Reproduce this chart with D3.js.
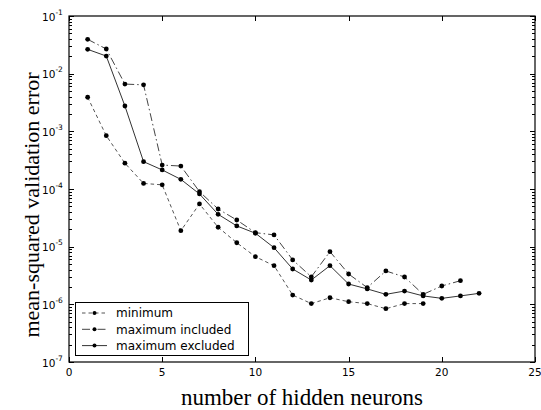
<!DOCTYPE html>
<html><head><meta charset="utf-8">
<script src="https://cdn.jsdelivr.net/npm/d3@7/dist/d3.min.js"></script>
<style>body{margin:0;background:#fff}svg{display:block}</style>
</head><body>
<svg id="c" width="541" height="410"></svg>
<script>
const xTicks = [0, 5, 10, 15, 20, 25];
const yDecades = [-7, -6, -5, -4, -3, -2, -1];
const seriesNames = ["minimum", "maximum included", "maximum excluded"];
const minimumX = [1,2,3,4,5,6,7,8,9,10,11,12,13,14,15,16,17,18,19];
const minimum = [0.0039, 8.4e-4, 2.8e-4, 1.25e-4, 1.18e-4, 1.89e-5, 5.5e-5, 2.17e-5, 1.17e-5, 6.7e-6, 4.68e-6, 1.45e-6, 1.03e-6, 1.3e-6, 1.11e-6, 1.03e-6, 8.4e-7, 1.03e-6, 1.03e-6];
const maxIncludedX = [1,2,3,4,5,6,7,8,9,10,11,12,13,14,15,16,17,18,19,20,21];
const maxIncluded = [0.0394, 0.0268, 0.0066, 0.0064, 2.6e-4, 2.5e-4, 9.0e-5, 4.5e-5, 2.9e-5, 1.75e-5, 1.6e-5, 5.9e-6, 3.0e-6, 8.2e-6, 3.36e-6, 1.95e-6, 3.79e-6, 2.98e-6, 1.49e-6, 2.08e-6, 2.57e-6];
const maxExcludedX = [1,2,3,4,5,6,7,8,9,10,11,12,13,14,15,16,17,18,19,20,21,22];
const maxExcluded = [0.0264, 0.0202, 0.00275, 2.98e-4, 2.14e-4, 1.47e-4, 8.2e-5, 3.64e-5, 2.29e-5, 1.71e-5, 9.6e-6, 4.1e-6, 2.64e-6, 4.68e-6, 2.25e-6, 1.85e-6, 1.49e-6, 1.70e-6, 1.40e-6, 1.27e-6, 1.40e-6, 1.55e-6];

const L = 69, R = 535, T = 16, B = 362;
const svg = d3.select("#c");
const x = d3.scaleLinear().domain([0, 25]).range([L, R]);
const y = d3.scaleLog().domain([1e-7, 1e-1]).range([B, T]);
const sans = "DejaVu Sans, Verdana, sans-serif";
const serif = "Liberation Serif, Times New Roman, serif";

const styles = [
  {dash: "3.5,3", color: "#555"},
  {dash: "8,3,1.5,3", color: "#444"},
  {dash: null, color: "#333"}
];
const series = [
  {name: seriesNames[0], xs: minimumX, ys: minimum, st: styles[0]},
  {name: seriesNames[1], xs: maxIncludedX, ys: maxIncluded, st: styles[1]},
  {name: seriesNames[2], xs: maxExcludedX, ys: maxExcluded, st: styles[2]}
];

svg.append("rect").attr("x", L).attr("y", T).attr("width", R - L).attr("height", B - T)
  .attr("fill", "none").attr("stroke", "#000").attr("stroke-width", 1.2);

const minor = [];
yDecades.slice(0, -1).forEach(d => { for (let k = 2; k <= 9; k++) minor.push(k * Math.pow(10, d)); });
const major = yDecades.map(d => Math.pow(10, d));
const tg = svg.append("g").attr("stroke", "#000").attr("stroke-width", 1);
major.forEach(v => {
  const py = Math.round(y(v)) + 0.5;
  tg.append("line").attr("x1", L).attr("x2", L + 5).attr("y1", py).attr("y2", py);
  tg.append("line").attr("x1", R).attr("x2", R - 5).attr("y1", py).attr("y2", py);
});
minor.forEach(v => {
  const py = Math.round(y(v)) + 0.5;
  tg.append("line").attr("x1", L).attr("x2", L + 3).attr("y1", py).attr("y2", py);
  tg.append("line").attr("x1", R).attr("x2", R - 3).attr("y1", py).attr("y2", py);
});
xTicks.forEach(v => {
  const px = Math.round(x(v)) + 0.5;
  tg.append("line").attr("x1", px).attr("x2", px).attr("y1", B).attr("y2", B - 5);
  tg.append("line").attr("x1", px).attr("x2", px).attr("y1", T).attr("y2", T + 5);
});

yDecades.forEach(d => {
  const t = svg.append("text").attr("x", 42).attr("y", y(Math.pow(10, d)) + 4.5)
    .attr("font-family", sans).attr("font-size", 10.5).attr("fill", "#000");
  t.append("tspan").text("10");
  t.append("tspan").attr("font-size", 7.5).attr("dy", -6).text(String(d));
});
xTicks.forEach(v => {
  svg.append("text").attr("x", x(v)).attr("y", B + 14).attr("text-anchor", "middle")
    .attr("font-family", sans).attr("font-size", 10.5).text(v);
});

svg.append("text").attr("x", (L + R) / 2).attr("y", 405).attr("text-anchor", "middle")
  .attr("font-family", serif).attr("font-size", 23).text("number of hidden neurons");
svg.append("text").attr("transform", "translate(39," + ((T + B) / 2 + 16) + ") rotate(-90)")
  .attr("text-anchor", "middle")
  .attr("font-family", serif).attr("font-size", 22).text("mean-squared validation error");

const line = d3.line().x(d => x(d[0])).y(d => y(d[1]));
series.forEach(s => {
  const pts = s.xs.map((v, i) => [v, s.ys[i]]);
  svg.append("path").attr("d", line(pts)).attr("fill", "none")
    .attr("stroke", s.st.color).attr("stroke-width", 1)
    .attr("stroke-dasharray", s.st.dash);
  svg.append("g").selectAll("circle").data(pts).join("circle")
    .attr("cx", d => x(d[0])).attr("cy", d => y(d[1])).attr("r", 2.4).attr("fill", "#000");
});

const lg = svg.append("g");
lg.append("rect").attr("x", 75.5).attr("y", 302.5).attr("width", 173).attr("height", 53)
  .attr("fill", "#fff").attr("stroke", "#000").attr("stroke-width", 1);
series.forEach((s, i) => {
  const cy = 313 + i * 16.3;
  lg.append("line").attr("x1", 82).attr("x2", 107).attr("y1", cy).attr("y2", cy)
    .attr("stroke", s.st.color).attr("stroke-width", 1).attr("stroke-dasharray", s.st.dash);
  lg.append("circle").attr("cx", 94.5).attr("cy", cy).attr("r", 2).attr("fill", "#000");
  lg.append("text").attr("x", 116).attr("y", cy + 4.3).attr("font-family", sans)
    .attr("font-size", 12).text(s.name);
});
</script>
</body></html>
